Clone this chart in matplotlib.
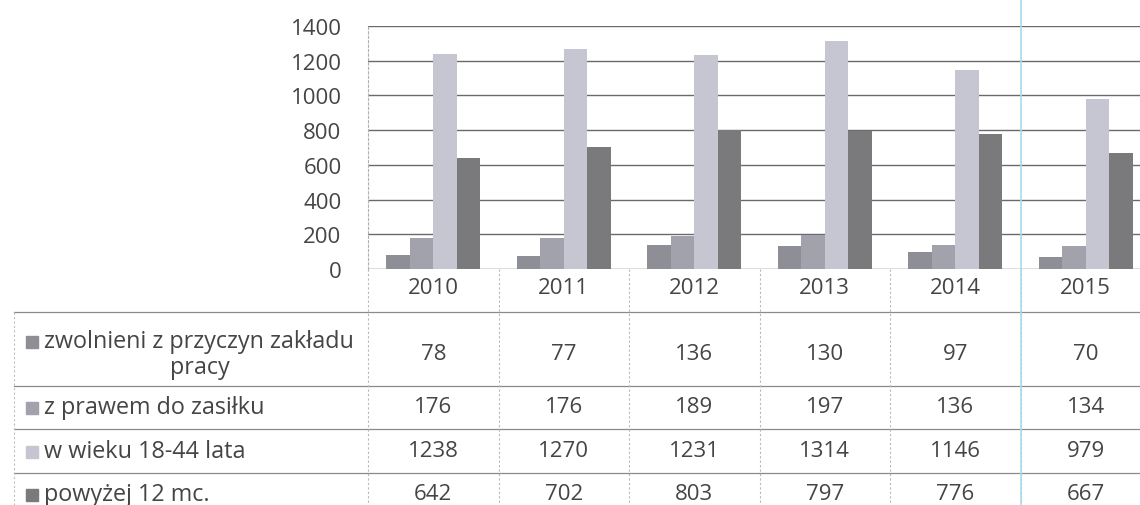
import matplotlib
matplotlib.use("Agg")
import matplotlib.pyplot as plt
import matplotlib.transforms as mtransforms
from matplotlib.lines import Line2D
import numpy as np

plt.rcParams['font.family'] = ['Open Sans', 'DejaVu Sans']

years = ["2010", "2011", "2012", "2013", "2014", "2015"]
series_names = ["zwolnieni z przyczyn zakładu\npracy", "z prawem do zasiłku",
                "w wieku 18-44 lata", "powyżej 12 mc."]
zwolnieni = [78, 77, 136, 130, 97, 70]
z_prawem = [176, 176, 189, 197, 136, 134]
w_wieku = [1238, 1270, 1231, 1314, 1146, 979]
powyzej = [642, 702, 803, 797, 776, 667]
yticks = [0, 200, 400, 600, 800, 1000, 1200, 1400]

series = [zwolnieni, z_prawem, w_wieku, powyzej]
colors = ["#8e8e96", "#a2a2ac", "#c6c6d2", "#7a7a7c"]
text_color = "#454545"
FS = 16
LFS = 16.8

W, H = 1140, 506
fig = plt.figure(figsize=(W / 100, H / 100), dpi=100)
ax_left = 368 / W
ax_w = 783 / W
ax_bottom = 1 - 270 / H
ax_h = 243 / H
ax = fig.add_axes([ax_left, ax_bottom, ax_w, ax_h])

x = np.arange(len(years))
bw = 0.18
for i, (vals, c) in enumerate(zip(series, colors)):
    ax.bar(x + (i - 1.5) * bw, vals, bw, color=c, zorder=3, linewidth=0)

ax.set_xlim(-0.5, len(years) - 0.5)
ax.set_ylim(0, 1400)
ax.set_yticks(yticks)
ax.set_yticklabels([str(v) for v in yticks], color=text_color, fontsize=FS)
ax.set_xticks([])
ax.tick_params(axis='y', length=0, pad=19)
ax.yaxis.grid(True, color="#6a6a6a", linewidth=1.0, zorder=0)
for s in ["top", "right", "bottom"]:
    ax.spines[s].set_visible(False)
ax.spines["left"].set_color("#b0b0b0")
ax.spines["left"].set_linestyle((0, (2, 2)))
ax.spines["left"].set_linewidth(0.8)
ax.axhline(0, color="#9a9a9a", linewidth=0.8, zorder=2)

# data table below the chart: x in data coords, y in figure pixels
trans = mtransforms.blended_transform_factory(ax.transData, fig.transFigure)
ftrans = fig.transFigure

def fy(py):
    return 1 - py / H

# years header
for xi, yr in zip(x, years):
    fig.text(xi, fy(289), yr, transform=trans, ha="center", va="center",
             fontsize=FS, color=text_color)

row_y = [355, 408, 452, 495]
for vals, ry in zip(series, row_y):
    for xi, v in zip(x, vals):
        fig.text(xi, fy(ry), str(v), transform=trans, ha="center", va="center",
                 fontsize=FS, color=text_color)

# row labels with legend squares
label_lines = [
    [(44, 342, "zwolnieni z przyczyn zakładu", "left"), (200, 368, "pracy", "center")],
    [(44, 408, "z prawem do zasiłku", "left")],
    [(44, 452, "w wieku 18-44 lata", "left")],
    [(44, 495, "powyżej 12 mc.", "left")],
]
marker_y = [342, 408, 452, 495]
for lines, my, c in zip(label_lines, marker_y, colors):
    fig.add_artist(Line2D([32 / W], [fy(my + 1)], marker="s", markersize=8,
                          color=c, transform=ftrans))
    for (px, py, t, ha) in lines:
        fig.text(px / W, fy(py), t, ha=ha, va="center", fontsize=LFS,
                 color=text_color)

# table grid lines
hline_y = [313, 387, 430, 474]
for hy in hline_y:
    fig.add_artist(Line2D([14 / W, 1.0], [fy(hy), fy(hy)], color="#8a8a8a",
                          linewidth=0.9, transform=ftrans))
fig.add_artist(Line2D([14 / W, 14 / W], [fy(313), 0], color="#c0c0c0",
                      linewidth=0.8, linestyle=(0, (2, 2)), transform=ftrans))
for xb in np.arange(-0.5, len(years) - 0.5 + 1e-9, 1.0):
    fig.add_artist(Line2D([xb, xb], [fy(270), 0], color="#b8b8b8",
                          linewidth=0.8, linestyle=(0, (2, 2)), transform=trans))

# light blue vertical line near 2015
fig.add_artist(Line2D([4.5, 4.5], [0, 1], color="#a6dcf0", linewidth=1.2,
                      transform=trans))

fig.savefig("out.png", dpi=100)
